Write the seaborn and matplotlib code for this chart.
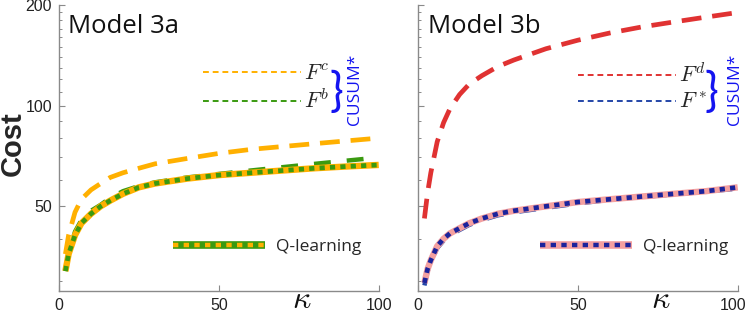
import numpy as np
import matplotlib
matplotlib.use('Agg')
import matplotlib.pyplot as plt
import matplotlib.transforms as mtransforms
from matplotlib.lines import Line2D
from matplotlib.legend_handler import HandlerTuple
import seaborn as sns

# Model 3a
k_a = [2, 3, 5, 7, 10, 13, 16, 20, 25, 30, 40, 50, 60, 70, 80, 90, 100]
cost_fc = [36, 41, 48, 52.5, 56, 58.5, 61, 63, 65, 67, 69.5, 72, 74, 75.5, 77, 78.5, 80]
cost_fb = [32.5, 36, 42, 45.5, 48.5, 50.5, 53, 55.5, 57.5, 59, 61, 62.5, 64, 65.5, 67, 68.5, 70]
cost_qa = [32, 36, 41, 44.5, 47.5, 50, 52, 54.5, 57, 58.5, 60.5, 62, 63, 64, 65, 65.8, 66.5]

# Model 3b
k_b = [2, 3, 4, 6, 8, 10, 13, 16, 20, 25, 30, 40, 50, 60, 70, 80, 90, 100]
cost_fd = [46, 55, 63, 78, 89, 98, 108, 116, 123, 131, 137, 148, 157, 165, 172, 178, 184, 190]
cost_fs = [29, 32, 34, 37.5, 39.5, 41, 42.5, 44, 45.5, 47, 48, 49.5, 51, 52.3, 53.3, 54.3, 55.3, 56.5]
cost_qb = [29.5, 32.5, 34.5, 38, 40, 41.5, 43, 44.5, 46, 47.5, 48.5, 50, 51.5, 52.5, 53.5, 54.5, 55.5, 57]

x_ticks = [0, 50, 100]
y_ticks = [50, 100, 200]
y_minor = [30, 40, 60, 70, 80, 90, 110, 120, 130, 140, 150, 160, 170, 180, 190]

ORANGE = '#FFB000'
GREEN = '#3A9A10'
RED = '#E03232'
BLUE = '#2446A8'
PINK = '#F4A0A0'
NAVY = '#1A239C'
CUSUM_BLUE = '#1414F0'

sns.set_style('ticks')
plt.rcParams['font.family'] = ['Open Sans', 'DejaVu Sans']
plt.rcParams['mathtext.fontset'] = 'cm'

fig = plt.figure(figsize=(7.47, 3.15), dpi=100)
ax1 = fig.add_axes([0.079, 0.076, 0.428, 0.908])
ax2 = fig.add_axes([0.5596, 0.076, 0.428, 0.908])


def style_axes(ax, show_labels):
    ax.set_yscale('log')
    ax.set_xlim(0, 100)
    ax.set_ylim(27.9, 200)
    ax.set_xticks(x_ticks)
    ax.set_xticklabels([str(t) for t in x_ticks], family='Liberation Sans')
    ax.set_yticks(y_ticks)
    ax.set_yticks(y_minor, minor=True)
    if show_labels:
        ax.set_yticklabels([str(t) for t in y_ticks], family='Liberation Sans')
    else:
        ax.set_yticklabels([])
    ax.yaxis.set_minor_formatter(matplotlib.ticker.NullFormatter())
    for s in ['top', 'right']:
        ax.spines[s].set_visible(False)
    for s in ['left', 'bottom']:
        ax.spines[s].set_color('#8a8a8a')
        ax.spines[s].set_linewidth(1.0)
    ax.tick_params(which='major', direction='in', length=4, width=0.8,
                   color='#8a8a8a', labelsize=11.5, labelcolor='#222222', pad=5)
    ax.tick_params(which='minor', direction='in', length=2.5, width=0.7,
                   color='#8a8a8a')
    ax.set_xlabel('')
    ax.set_ylabel('')
    ax.annotate(r'$\kappa$', xy=(76, -0.059), xycoords=('data', 'axes fraction'),
                ha='center', va='baseline', fontsize=23, color='#111111',
                annotation_clip=False)


def q_curve(ax, k, cost, base, dots):
    sns.lineplot(x=k, y=cost, ax=ax, color=base, lw=4.6, solid_capstyle='butt')
    sns.lineplot(x=k, y=cost, ax=ax, color=dots, lw=3.4,
                 linestyle=(0, (1.1, 1.1)), dash_capstyle='butt')


def legends(ax, names, colors, x_lines, q_base, q_dots, x_q):
    handles = [Line2D([], [], color=c, lw=1.4, linestyle=(0, (3, 2))) for c in colors]
    leg = ax.legend(handles, names, loc='center left', bbox_to_anchor=(x_lines, 0.708),
                    frameon=False, fontsize=16, handlelength=4.4, handletextpad=0.15,
                    labelspacing=0.22, borderpad=0, borderaxespad=0)
    ax.add_artist(leg)
    qh = (Line2D([], [], color=q_base, lw=5.5, solid_capstyle='butt'),
          Line2D([], [], color=q_dots, lw=3.2, linestyle=(0, (1.2, 1.2)),
                 dash_capstyle='butt'))
    ax.legend([qh], ['Q-learning'], handler_map={tuple: HandlerTuple(ndivide=1)},
              loc='center left', bbox_to_anchor=(x_q, 0.153), frameon=False,
              fontsize=12.5, handlelength=5.3, handletextpad=0.65,
              borderpad=0, borderaxespad=0)


# Model 3a
sns.lineplot(x=k_a, y=cost_fc, ax=ax1, color=ORANGE, lw=3.4,
             linestyle=(0, (4.2, 2.3)), dash_capstyle='butt')
sns.lineplot(x=k_a, y=cost_fb, ax=ax1, color=GREEN, lw=3.2,
             linestyle=(0, (3.8, 3.6)), dash_capstyle='butt')
q_curve(ax1, k_a, cost_qa, ORANGE, GREEN)
style_axes(ax1, True)
ax1.text(0.028, 0.902, 'Model 3a', transform=ax1.transAxes, fontsize=18.5,
         va='baseline', ha='left', color='#111111')
legends(ax1, [r'$F^c$', r'$F^b$'], [ORANGE, GREEN], 0.45, GREEN, ORANGE, 0.356)
ax1.text(0.868, 0.695, '}', transform=ax1.transAxes, fontsize=33, ha='center',
         va='center', color=CUSUM_BLUE, family='Lato')
ax1.text(0.925, 0.707, 'CUSUM*', transform=ax1.transAxes, fontsize=12.5, ha='center',
         va='center', rotation=90, color=CUSUM_BLUE)
ax1.set_ylabel('Cost', fontsize=21, fontweight='bold', family='Liberation Sans')
ax1.yaxis.set_label_coords(-0.1, 0.516)

# Model 3b
sns.lineplot(x=k_b, y=cost_fd, ax=ax2, color=RED, lw=3.4,
             linestyle=(0, (4.2, 2.3)), dash_capstyle='butt')
sns.lineplot(x=k_b, y=cost_fs, ax=ax2, color=BLUE, lw=3.2,
             linestyle=(0, (3.8, 3.6)), dash_capstyle='butt')
q_curve(ax2, k_b, cost_qb, PINK, NAVY)
style_axes(ax2, False)
ax2.text(0.031, 0.902, 'Model 3b', transform=ax2.transAxes, fontsize=18.5,
         va='baseline', ha='left', color='#111111')
legends(ax2, [r'$F^d$', r'$F^*$'], [RED, BLUE], 0.5, PINK, NAVY, 0.381)
ax2.text(0.918, 0.695, '}', transform=ax2.transAxes, fontsize=33, ha='center',
         va='center', color=CUSUM_BLUE, family='Lato')
ax2.text(0.99, 0.707, 'CUSUM*', transform=ax2.transAxes, fontsize=12.5, ha='center',
         va='center', rotation=90, color=CUSUM_BLUE)

# posun posledniho popisku, aby se vesel do obrazku
last = ax2.get_xticklabels()[-1]
last.set_transform(last.get_transform() +
                   mtransforms.ScaledTranslation(-5 / 100, 0, fig.dpi_scale_trans))

fig.savefig('out.png', dpi=100)
